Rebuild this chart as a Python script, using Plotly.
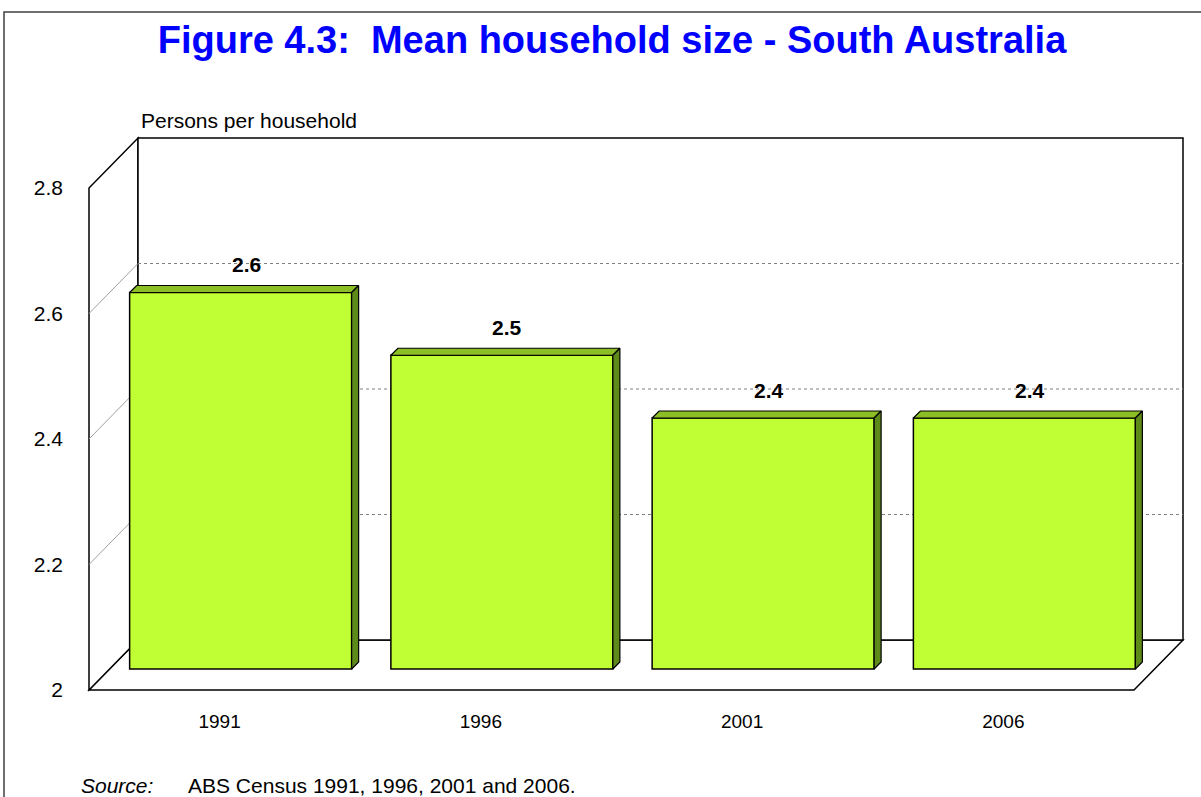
import plotly.graph_objects as go

# data
years = ["1991", "1996", "2001", "2006"]
mean_size = [2.6, 2.5, 2.4, 2.4]
value_labels = ["2.6", "2.5", "2.4", "2.4"]
y_ticks = [2, 2.2, 2.4, 2.6, 2.8]
y_ticktext = ["2", "2.2", "2.4", "2.6", "2.8"]

W, H = 1201, 797
L, R, T, B = 80, 1192, 130, 698          # plot area in pixels
FX0, FY0 = 89, 690                        # front-plane origin (x=-0.5, y=2) in pixels
PPX, PPY = 261.25, 627.5                  # pixels per data unit

x_range = [-0.5 + (L - FX0) / PPX, -0.5 + (R - FX0) / PPX]
y_range = [2 + (FY0 - B) / PPY, 2 + (FY0 - T) / PPY]

DX, DY = 49 / PPX, 50 / PPY               # wall depth
BX, BY = 21 / PPX, 21 / PPY               # bar plane offset
SX, SY = 7 / PPX, 7 / PPY                 # bar thickness
HALF = 111 / PPX                          # half bar width


def paper_x(px):
    return (px - L) / (R - L)


def paper_y(py):
    return (B - py) / (B - T)


font = "Liberation Sans, Arial, sans-serif"
FRONT = "#C0FF33"
TOP = "#8CBF26"
SIDE = "#5E8A1A"

fig = go.Figure()

# front faces
fig.add_trace(go.Bar(
    x=[i + BX for i in range(len(years))],
    y=[v - 2 for v in mean_size],
    base=2 + BY,
    width=2 * HALF,
    marker=dict(color=FRONT, line=dict(color="black", width=1.5)),
    hoverinfo="skip",
))

# top and side faces
tx, ty, sx, sy = [], [], [], []
for i, v in enumerate(mean_size):
    xl, xr = i + BX - HALF, i + BX + HALF
    top, base = v + BY, 2 + BY
    tx += [xl, xr, xr + SX, xl + SX, xl, None]
    ty += [top, top, top + SY, top + SY, top, None]
    sx += [xr, xr, xr + SX, xr + SX, xr, None]
    sy += [base, top, top + SY, base + SY, base, None]
fig.add_trace(go.Scatter(x=tx, y=ty, mode="lines", fill="toself", fillcolor=TOP,
                         line=dict(color="black", width=1.2), hoverinfo="skip"))
fig.add_trace(go.Scatter(x=sx, y=sy, mode="lines", fill="toself", fillcolor=SIDE,
                         line=dict(color="black", width=1.2), hoverinfo="skip"))

shapes = []
line_k = dict(color="black", width=1.5)
# floor
shapes.append(dict(type="path", xref="x", yref="y", layer="below",
                   path=f"M {-0.5},{2} L {3.5},{2} L {3.5 + DX},{2 + DY} L {-0.5 + DX},{2 + DY} Z",
                   line=line_k, fillcolor="white"))
# left wall
shapes.append(dict(type="path", xref="x", yref="y", layer="below",
                   path=f"M {-0.5},{2} L {-0.5},{2.8} L {-0.5 + DX},{2.8 + DY} L {-0.5 + DX},{2 + DY} Z",
                   line=line_k, fillcolor="white"))
# back wall
shapes.append(dict(type="rect", xref="x", yref="y", layer="below",
                   x0=-0.5 + DX, x1=3.5 + DX, y0=2 + DY, y1=2.8 + DY,
                   line=line_k, fillcolor="white"))
for g in y_ticks[1:-1]:
    shapes.append(dict(type="line", xref="x", yref="y", layer="below",
                       x0=-0.5 + DX, x1=3.5 + DX, y0=g + DY, y1=g + DY,
                       line=dict(color="#808080", width=1, dash="dot")))
    shapes.append(dict(type="line", xref="x", yref="y", layer="below",
                       x0=-0.5, x1=-0.5 + DX, y0=g, y1=g + DY,
                       line=dict(color="#A0A0A0", width=1)))
# outer chart border
shapes.append(dict(type="rect", xref="paper", yref="paper",
                   x0=paper_x(4), x1=paper_x(1215), y0=paper_y(12), y1=paper_y(815),
                   line=dict(color="#404040", width=1.5), fillcolor="rgba(0,0,0,0)"))

annotations = [
    dict(text="Persons per household", xref="paper", yref="paper",
         x=paper_x(139), y=paper_y(121), xanchor="left", yanchor="middle",
         showarrow=False, font=dict(family=font, size=21, color="black")),
    dict(text="<i>Source:</i>", xref="paper", yref="paper",
         x=paper_x(79), y=paper_y(785), xanchor="left", yanchor="middle",
         showarrow=False, font=dict(family=font, size=21, color="black")),
    dict(text="ABS Census 1991, 1996, 2001 and 2006.", xref="paper", yref="paper",
         x=paper_x(186), y=paper_y(785), xanchor="left", yanchor="middle",
         showarrow=False, font=dict(family=font, size=21, color="black")),
]

# value labels above each bar
for i, v in enumerate(mean_size):
    annotations.append(dict(
        text=f"<b>{value_labels[i]}</b>", xref="x", yref="y",
        x=i + BX + SX / 2, y=v + BY + SY, xanchor="center", yanchor="middle",
        xshift=2, yshift=21, showarrow=False,
        font=dict(family=font, size=21, color="black")))

fig.update_layout(
    width=W, height=H,
    margin=dict(l=L, r=W - R, t=T, b=H - B, autoexpand=False),
    paper_bgcolor="white", plot_bgcolor="rgba(0,0,0,0)",
    showlegend=False,
    title=dict(text="<b>Figure 4.3:  Mean household size - South Australia</b>",
               x=612 / W, xanchor="center", xref="container",
               y=1 - 40 / H, yanchor="middle", yref="container",
               font=dict(family=font, size=38, color="#0000FF")),
    shapes=shapes,
    annotations=annotations,
    xaxis=dict(range=x_range, tickvals=list(range(len(years))), ticktext=years,
               showgrid=False, zeroline=False, showline=False, ticks="",
               ticklabelstandoff=10,
               tickfont=dict(family=font, size=19, color="black"), fixedrange=True),
    yaxis=dict(range=y_range, tickvals=y_ticks, ticktext=y_ticktext,
               showgrid=False, zeroline=False, showline=False, ticks="",
               ticklabelstandoff=16,
               tickfont=dict(family=font, size=21, color="black"), fixedrange=True),
)

fig.write_html("out.html", config={"displayModeBar": False},
               post_script="document.body.style.margin = '0';")
